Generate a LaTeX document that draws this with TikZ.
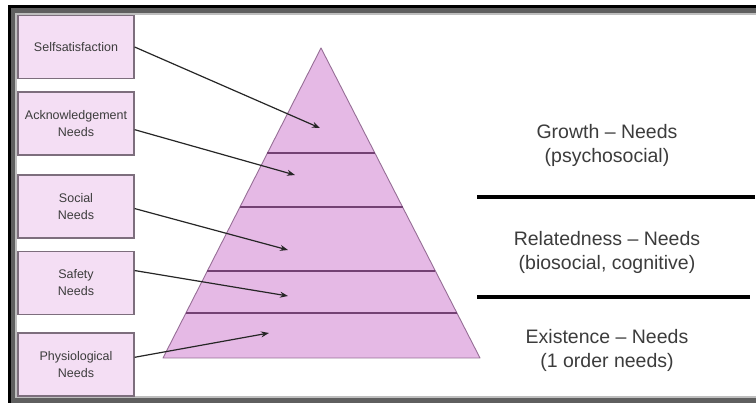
\documentclass[tikz,border=0pt]{standalone}
\usepackage{fontspec}
\setmainfont{Liberation Sans}
\usepackage{tikz}
\usepackage{xcolor}
\usetikzlibrary{arrows.meta, calc}
\definecolor{boxfill}{RGB}{244,222,244}
\definecolor{boxborder}{RGB}{125,110,125}
\definecolor{pyrfill}{RGB}{229,185,229}
\definecolor{pyredge}{RGB}{150,110,150}
\definecolor{bandline}{RGB}{115,65,115}
\definecolor{textgrey}{RGB}{60,60,60}
\definecolor{framegrey}{RGB}{95,95,95}
\definecolor{framelight}{RGB}{190,190,190}

\tikzset{
    needbox/.style={draw=boxborder, fill=boxfill, line width=1.2pt, minimum width=116pt, minimum height=63pt, align=center, text=textgrey, font=\fontsize{12.5}{17}\selectfont},
    grouplabel/.style={align=center, text=textgrey, font=\fontsize{19.5}{24}\selectfont},
    pointer/.style={draw=black!85, line width=1.2pt, -{Stealth[length=8pt, width=6pt]}},
    divider/.style={line width=4pt, black}
}

\begin{document}
\begin{tikzpicture}[x=1pt, y=-1pt] % one unit = one pixel of the reference, y downwards

    \useasboundingbox (0,0) rectangle (756,403);

    % Frame around the picture (left, top and bottom edges)
    \fill[black] (8,5) rectangle (756,403);
    \fill[framegrey] (10.5,8) rectangle (756,403);
    \fill[framelight] (15,13) rectangle (756,398);
    \fill[white] (16.5,15) rectangle (756,396);

    % Pyramid
    \coordinate (top) at (321,48); % apex
    \coordinate (bl) at (163,358); % bottom left corner
    \coordinate (br) at (480,358); % bottom right corner
    \draw[fill=pyrfill, draw=pyredge, line width=0.9pt, line join=round] (top) -- (bl) -- (br) -- cycle;
    % Layer borders
    \foreach \t in {0.339, 0.513, 0.719, 0.855}
        \draw[bandline, line width=1.3pt] ($(top)!\t!(bl)$) -- ($(top)!\t!(br)$);

    % Targets inside the layers
    \coordinate (selfpt) at (320,128);
    \coordinate (ackpt) at (295,175);
    \coordinate (socialpt) at (288,250);
    \coordinate (safetypt) at (288,296);
    \coordinate (physpt) at (269,333);

    % Boxes on the left
    \node[needbox] (self) at (76,47) {Selfsatisfaction};
    \node[needbox] (ack) at (76,123.5) {Acknowledgement\\Needs};
    \node[needbox] (social) at (76,206.5) {Social\\Needs};
    \node[needbox] (safety) at (76,283) {Safety\\Needs};
    \node[needbox] (phys) at (76,364.5) {Physiological\\Needs};

    % Pointers from the boxes into the pyramid
    \draw[pointer] (self.east) -- (selfpt);
    \draw[pointer] (ack.-6) -- (ackpt);
    \draw[pointer] (social.-2) -- (socialpt);
    \draw[pointer] (safety.12) -- (safetypt);
    \draw[pointer] (phys.7) -- (physpt);

    % Groups on the right
    \node[grouplabel] (growth) at (607,145) {Growth -- Needs\\(psychosocial)};
    \coordinate (div1a) at (477,197);
    \coordinate (div1b) at (755,197);
    \draw[divider] (div1a) -- (div1b);
    \node[grouplabel] (related) at (607,252.5) {Relatedness -- Needs\\(biosocial, cognitive)};
    \coordinate (div2a) at (477,297);
    \coordinate (div2b) at (750,297);
    \draw[divider] (div2a) -- (div2b);
    \node[grouplabel] (exist) at (607,350) {Existence -- Needs\\(1 order needs)};

\end{tikzpicture}
\end{document}
